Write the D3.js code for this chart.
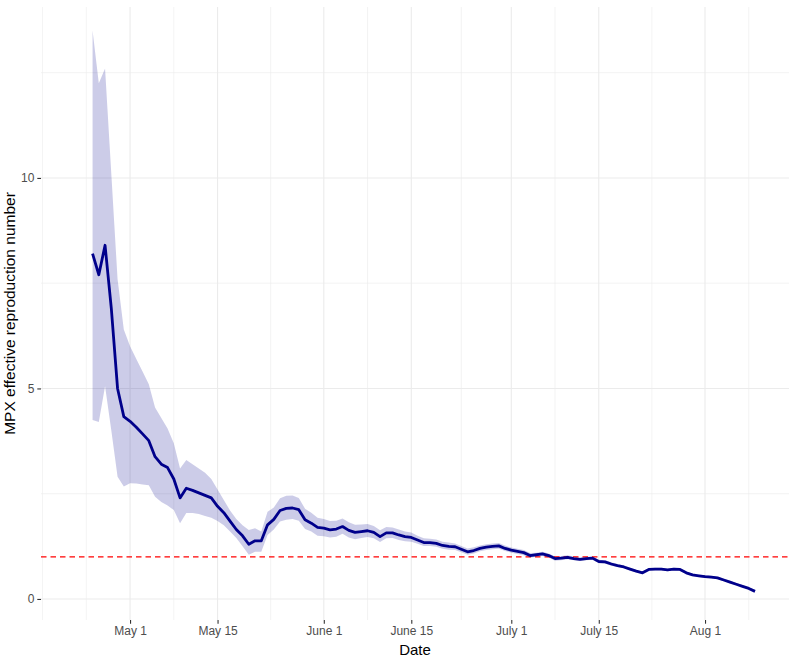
<!DOCTYPE html>
<html>
<head>
<meta charset="utf-8">
<script src="https://cdn.jsdelivr.net/npm/d3@7"></script>
<style>
  html, body { margin: 0; padding: 0; background: #ffffff; }
  svg { display: block; }
  text { font-family: "Liberation Sans", Arial, sans-serif; }
</style>
</head>
<body>
<svg id="chart" width="795" height="657"></svg>
<script>
// ---------------- data ----------------
const startDate = "2022-04-25";
const endDate = "2022-08-09";

const rt = [
  8.2, 7.7, 8.4, 6.9, 5.0, 4.33,
  4.22, 4.08, 3.92, 3.76, 3.38, 3.2, 3.12, 2.85, 2.4, 2.63, 2.58, 2.52, 2.46, 2.4, 2.2, 2.05,
  1.85, 1.65, 1.5, 1.3, 1.38, 1.38, 1.76, 1.89, 2.1, 2.15, 2.16, 2.12, 1.88, 1.8, 1.7,
  1.68, 1.64, 1.66, 1.72, 1.63, 1.58, 1.6, 1.62, 1.58, 1.48, 1.57, 1.57, 1.52, 1.48, 1.46,
  1.40, 1.34, 1.34, 1.32, 1.27, 1.25, 1.24, 1.18, 1.12, 1.15, 1.20, 1.23, 1.25, 1.26, 1.20,
  1.16, 1.13, 1.10, 1.03, 1.05, 1.07, 1.03, 0.96, 0.97, 0.99, 0.96, 0.94, 0.96, 0.97, 0.89,
  0.88, 0.83, 0.79, 0.76, 0.71, 0.66, 0.62, 0.70, 0.71, 0.71, 0.69, 0.71, 0.70, 0.62, 0.57, 0.55,
  0.53, 0.52, 0.50, 0.45, 0.40, 0.35, 0.30, 0.25, 0.18
];

const rtUpper = [
  13.5, 12.25, 12.6, 10.1, 7.6, 6.4,
  6.0, 5.7, 5.4, 5.1, 4.55, 4.3, 4.05, 3.7, 3.1, 3.3, 3.2, 3.1, 3.0, 2.85, 2.6, 2.35,
  2.1, 1.9, 1.75, 1.64, 1.68, 1.6, 2.07, 2.17, 2.39, 2.45, 2.46, 2.4, 2.14, 2.05, 1.93,
  1.9, 1.85, 1.86, 1.91, 1.82, 1.76, 1.77, 1.78, 1.73, 1.63, 1.71, 1.7, 1.65, 1.6, 1.58,
  1.50, 1.44, 1.43, 1.41, 1.36, 1.34, 1.32, 1.26, 1.20, 1.23, 1.27, 1.30, 1.32, 1.33, 1.27,
  1.22, 1.19, 1.16, 1.09, 1.10, 1.12, 1.08, 1.01, 1.02, 1.04, 1.01, 0.98, 1.00, 1.01, 0.93,
  0.92, 0.87, 0.83, 0.80, 0.74, 0.69, 0.65, 0.73, 0.74, 0.74, 0.72, 0.74, 0.73, 0.65, 0.60, 0.58,
  0.56, 0.55, 0.53, 0.48, 0.43, 0.38, 0.33, 0.28, 0.21
];

const rtLower = [
  4.25, 4.2, 5.05, 4.0, 2.9, 2.67,
  2.75, 2.74, 2.72, 2.7, 2.43, 2.3, 2.22, 2.11, 1.8, 2.04, 2.04, 2.02, 1.97, 1.93, 1.85, 1.75,
  1.6, 1.45, 1.25, 1.05, 1.12, 1.12, 1.52, 1.65, 1.84, 1.88, 1.9, 1.86, 1.66, 1.6, 1.5,
  1.49, 1.46, 1.48, 1.55, 1.46, 1.42, 1.45, 1.47, 1.44, 1.35, 1.44, 1.45, 1.4, 1.37, 1.36,
  1.31, 1.26, 1.26, 1.24, 1.19, 1.17, 1.16, 1.11, 1.05, 1.08, 1.13, 1.16, 1.18, 1.19, 1.14,
  1.10, 1.07, 1.04, 0.98, 1.00, 1.02, 0.98, 0.91, 0.92, 0.94, 0.92, 0.90, 0.92, 0.93, 0.85,
  0.84, 0.79, 0.76, 0.73, 0.68, 0.63, 0.59, 0.67, 0.68, 0.68, 0.66, 0.68, 0.67, 0.59, 0.54, 0.52,
  0.50, 0.49, 0.47, 0.42, 0.37, 0.33, 0.28, 0.23, 0.16
];

const xTickDates = ["2022-05-01", "2022-05-15", "2022-06-01", "2022-06-15", "2022-07-01", "2022-07-15", "2022-08-01"];
const xTickLabels = ["May 1", "May 15", "June 1", "June 15", "July 1", "July 15", "Aug 1"];
const xMinorDates = ["2022-04-17", "2022-04-24", "2022-05-08", "2022-05-23T12:00", "2022-06-08", "2022-06-23", "2022-07-08", "2022-07-23T12:00", "2022-08-08"];
const yTicks = [0, 5, 10];
const yTickLabels = ["0", "5", "10"];
const yMinor = [2.5, 7.5, 12.5];
const threshold = 1;

// ---------------- layout ----------------
const W = 795, H = 657;
const panel = { left: 41, right: 789, top: 7, bottom: 620 };
const parse = s => new Date(s + (s.length > 10 ? ":00Z" : "T00:00:00Z"));

const dates = d3.utcDay.range(parse(startDate), d3.utcDay.offset(parse(endDate), 1));
const data = dates.map((d, i) => ({ date: d, rt: rt[i], lo: rtLower[i], hi: rtUpper[i] }));

const x = d3.scaleUtc()
  .domain([parse("2022-04-16T18:00"), parse("2022-08-14T10:30")])
  .range([panel.left, panel.right]);
const y = d3.scaleLinear()
  .domain([-0.5, 14.06])
  .range([panel.bottom, panel.top]);

const svg = d3.select("#chart");
svg.append("rect").attr("width", W).attr("height", H).attr("fill", "#ffffff");

const grid = svg.append("g");
// minor grid
grid.selectAll(".ym").data(yMinor).enter().append("line")
  .attr("x1", panel.left).attr("x2", panel.right)
  .attr("y1", d => y(d)).attr("y2", d => y(d))
  .attr("stroke", "#ebebeb").attr("stroke-width", 0.6);
grid.selectAll(".xm").data(xMinorDates).enter().append("line")
  .attr("y1", panel.top).attr("y2", panel.bottom)
  .attr("x1", d => x(parse(d))).attr("x2", d => x(parse(d)))
  .attr("stroke", "#ebebeb").attr("stroke-width", 0.6);
// major grid
grid.selectAll(".yM").data(yTicks).enter().append("line")
  .attr("x1", panel.left).attr("x2", panel.right)
  .attr("y1", d => y(d)).attr("y2", d => y(d))
  .attr("stroke", "#ebebeb").attr("stroke-width", 1.1);
grid.selectAll(".xM").data(xTickDates).enter().append("line")
  .attr("y1", panel.top).attr("y2", panel.bottom)
  .attr("x1", d => x(parse(d))).attr("x2", d => x(parse(d)))
  .attr("stroke", "#ebebeb").attr("stroke-width", 1.1);

// ribbon
const area = d3.area()
  .x(d => x(d.date))
  .y0(d => y(d.lo))
  .y1(d => y(d.hi));
svg.append("path").datum(data)
  .attr("d", area)
  .attr("fill", "#00008b").attr("fill-opacity", 0.2);

// threshold line
svg.append("line")
  .attr("x1", panel.left).attr("x2", panel.right)
  .attr("y1", y(threshold)).attr("y2", y(threshold))
  .attr("stroke", "#ff0000").attr("stroke-width", 1.3)
  .attr("stroke-dasharray", "5.5,4");

// line
const line = d3.line().x(d => x(d.date)).y(d => y(d.rt));
svg.append("path").datum(data)
  .attr("d", line)
  .attr("fill", "none")
  .attr("stroke", "#00008b")
  .attr("stroke-width", 2.8)
  .attr("stroke-linejoin", "round");

// axes
const xAxis = d3.axisBottom(x)
  .tickValues(xTickDates.map(parse))
  .tickFormat((d, i) => xTickLabels[i])
  .tickSize(3.7).tickPadding(3);
const gx = svg.append("g").attr("transform", `translate(0,${panel.bottom})`).call(xAxis);
gx.select(".domain").remove();
gx.selectAll(".tick line").attr("stroke", "#333333").attr("stroke-width", 1.1);
gx.selectAll(".tick text").attr("fill", "#4d4d4d").style("font-size", "12px")
  .style("font-family", "'Liberation Sans', Arial, sans-serif");

const yAxis = d3.axisLeft(y)
  .tickValues(yTicks)
  .tickFormat((d, i) => yTickLabels[i])
  .tickSize(3.7).tickPadding(3);
const gy = svg.append("g").attr("transform", `translate(${panel.left},0)`).call(yAxis);
gy.select(".domain").remove();
gy.selectAll(".tick line").attr("stroke", "#333333").attr("stroke-width", 1.1);
gy.selectAll(".tick text").attr("fill", "#4d4d4d").style("font-size", "12px")
  .style("font-family", "'Liberation Sans', Arial, sans-serif");

// titles
svg.append("text")
  .attr("x", (panel.left + panel.right) / 2).attr("y", 655)
  .attr("text-anchor", "middle")
  .style("font-size", "15px").attr("fill", "#000000")
  .text("Date");
svg.append("text")
  .attr("transform", `translate(15,${(panel.top + panel.bottom) / 2}) rotate(-90)`)
  .attr("text-anchor", "middle")
  .style("font-size", "15.5px").attr("fill", "#000000")
  .text("MPX effective reproduction number");
</script>
</body>
</html>
